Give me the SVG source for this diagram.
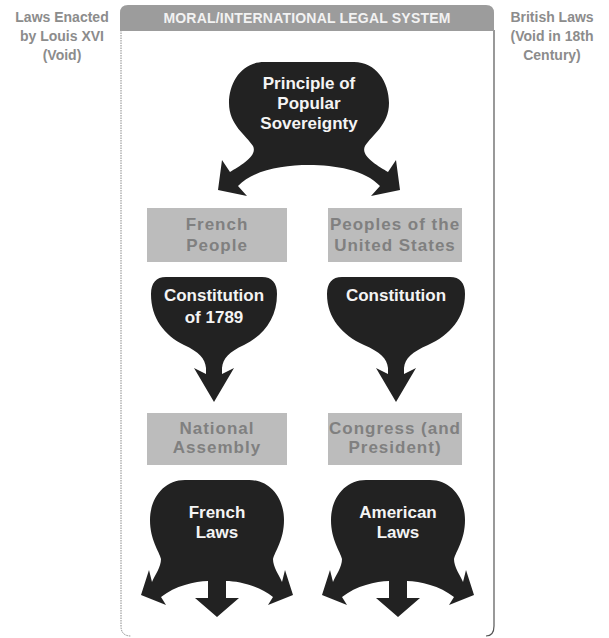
<svg xmlns="http://www.w3.org/2000/svg" width="609" height="638" viewBox="0 0 609 638">
  <style>
    .side { font-family: "Liberation Sans", Arial, sans-serif; font-weight: bold; font-size: 14px; fill: #8c8c8c; text-anchor: middle; }
    .hdr { font-family: "Liberation Sans", Arial, sans-serif; font-weight: bold; font-size: 14px; fill: #f2f2f2; text-anchor: middle; letter-spacing: 0.2px; }
    .dark { fill: #222222; }
    .wt { font-family: "Liberation Sans", Arial, sans-serif; font-weight: bold; font-size: 17px; fill: #f4f4f4; text-anchor: middle; }
    .box { fill: #bcbcbc; }
    .gt { font-family: "Liberation Sans", Arial, sans-serif; font-weight: bold; font-size: 17px; fill: #808080; text-anchor: middle; letter-spacing: 1px; }
  </style>

  <defs>
    <!-- three-way "laws" pot, drawn around x = 0 -->
    <path id="laws-pot" d="M-32,480 L32,480 C53,480 67,498 67,520 C67,540 58,551 56,559 C56,567 62,575 65,582 L68,570 L76,595 L51,605 L56,597 C42,586 22,581 9,581 L9,598 L22,598 L0,617 L-22,598 L-9,598 L-9,581 C-22,581 -42,586 -56,597 L-51,605 L-76,595 L-68,570 L-65,582 C-62,575 -56,567 -56,559 C-58,551 -67,540 -67,520 C-67,498 -53,480 -32,480 Z"/>
  </defs>

  <!-- side notes -->
  <g id="louis-laws">
    <text class="side" x="62" y="22">Laws Enacted</text>
    <text class="side" x="62" y="41">by Louis XVI</text>
    <text class="side" x="62" y="60">(Void)</text>
  </g>
  <g id="british-laws">
    <text class="side" x="552" y="22">British Laws</text>
    <text class="side" x="552" y="41">(Void in 18th</text>
    <text class="side" x="552" y="60">Century)</text>
  </g>

  <!-- frame with header -->
  <g id="legal-system">
    <path d="M121,30 L121,626 Q121,636 131,636" fill="none" stroke="#8a8a8a" stroke-width="1" stroke-dasharray="1.5,1"/>
    <path d="M494,30 L494,626 Q494,636 486,636" fill="none" stroke="#555" stroke-width="1.2"/>
    <path d="M120,31 L120,13 Q120,5 128,5 L486,5 Q494,5 494,13 L494,31 Z" fill="#9c9c9c"/>
    <text class="hdr" x="307" y="23">MORAL/INTERNATIONAL LEGAL SYSTEM</text>
  </g>

  <!-- Principle of Popular Sovereignty -->
  <g id="sovereignty">
    <path class="dark" d="M264,62 L354,62 C376,62 389,82 389,103 C389,125 372,135 365,146 C360,156 378,166 388,172 L396,160 L400,190 L371,196 L380,186 C365,170 335,165 309,165 C283,165 253,170 238,186 L247,196 L218,190 L222,160 L230,172 C240,166 258,156 253,146 C246,135 229,125 229,103 C229,82 242,62 264,62 Z"/>
    <text class="wt" x="309" y="89">Principle of</text>
    <text class="wt" x="309" y="109">Popular</text>
    <text class="wt" x="309" y="129">Sovereignty</text>
  </g>

  <g id="french-people">
    <rect class="box" x="147" y="208" width="140" height="54"/>
    <text class="gt" x="217" y="230">French</text>
    <text class="gt" x="217" y="251">People</text>
  </g>
  <g id="us-people">
    <rect class="box" x="328" y="208" width="134" height="54"/>
    <text class="gt" x="395" y="230">Peoples of the</text>
    <text class="gt" x="395" y="251">United States</text>
  </g>

  <g id="constitution-1789">
    <path class="dark" transform="translate(214,0)" d="M-48,277 L48,277 C58,277 63,283 63,294 C63,318 50,335 30,345 C15,352 9,358 8,368 L8,374 L20,368 L0,402 L-20,368 L-8,374 L-8,368 C-9,358 -15,352 -30,345 C-50,335 -63,318 -63,294 C-63,283 -58,277 -48,277 Z"/>
    <text class="wt" x="214" y="301">Constitution</text>
    <text class="wt" x="214" y="323">of 1789</text>
  </g>
  <g id="us-constitution">
    <path class="dark" transform="translate(396,0)" d="M-54,277 L54,277 C64,277 69,283 69,294 C69,318 54,335 32,345 C16,352 9,358 8,368 L8,374 L20,368 L0,402 L-20,368 L-8,374 L-8,368 C-9,358 -16,352 -32,345 C-54,335 -69,318 -69,294 C-69,283 -64,277 -54,277 Z"/>
    <text class="wt" x="396" y="301">Constitution</text>
  </g>

  <g id="national-assembly">
    <rect class="box" x="147" y="413" width="140" height="52"/>
    <text class="gt" x="217" y="434">National</text>
    <text class="gt" x="217" y="453">Assembly</text>
  </g>
  <g id="congress">
    <rect class="box" x="328" y="413" width="134" height="52"/>
    <text class="gt" x="395" y="434">Congress (and</text>
    <text class="gt" x="395" y="453">President)</text>
  </g>

  <g id="french-laws">
    <use href="#laws-pot" class="dark" transform="translate(217,0)"/>
    <text class="wt" x="217" y="518">French</text>
    <text class="wt" x="217" y="538">Laws</text>
  </g>
  <g id="american-laws">
    <use href="#laws-pot" class="dark" transform="translate(398,0)"/>
    <text class="wt" x="398" y="518">American</text>
    <text class="wt" x="398" y="538">Laws</text>
  </g>
</svg>
